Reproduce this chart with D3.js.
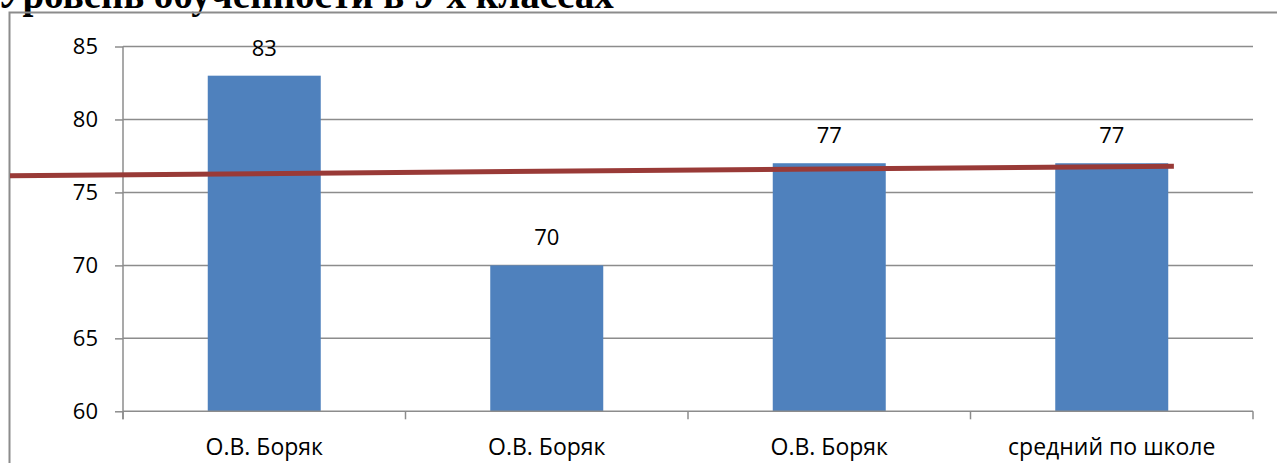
<!DOCTYPE html>
<html><head><meta charset="utf-8">
<script src="https://cdn.jsdelivr.net/npm/d3@7"></script>
<style>body{margin:0;background:#fff}svg{display:block}</style>
</head><body>
<svg id="c" width="1277" height="463"></svg>
<script>
const title = "Уровень обученности в 9-х классах";
const categories = ["О.В. Боряк", "О.В. Боряк", "О.В. Боряк", "средний по школе"];
const values = [83, 70, 77, 77];
const yTicks = [60, 65, 70, 75, 80, 85];
const trendPos = [-0.9, 3.22];   // in category-index units
const trendVals = [76.15, 76.8];

const svg = d3.select("#c");
const pL = 123, pR = 1253, pT = 46.5, pB = 411.3;
const font = "'Open Sans', 'Noto Sans', sans-serif";

// title (clipped at top, as in the source)
svg.append("text").attr("x", -3).attr("y", 8).text(title)
  .attr("font-family", "'Liberation Serif', serif").attr("font-weight", "bold")
  .attr("font-size", 39).attr("fill", "#000");

// frame
svg.append("path").attr("d", "M9.5,463 V12.5 H1277")
  .attr("fill", "none").attr("stroke", "#8c8c8c").attr("stroke-width", 2);

const idx = categories.map((c, i) => i);
const x = d3.scaleBand().domain(idx).range([pL, pR]).paddingInner(0.6).paddingOuter(0.3);
const xi = d3.scaleLinear().domain([-0.5, categories.length - 0.5]).range([pL, pR]);
const y = d3.scaleLinear().domain([60, 85]).range([pB, pT]);

// gridlines
svg.append("g").selectAll("line").data(yTicks.filter(d => d > 60)).join("line")
  .attr("x1", pL).attr("x2", pR).attr("y1", d => y(d)).attr("y2", d => y(d))
  .attr("stroke", "#8c8c8c").attr("stroke-width", 1.5);

// y axis
const ya = svg.append("g").attr("transform", `translate(${pL},0)`)
  .call(d3.axisLeft(y).tickValues(yTicks).tickSize(8).tickPadding(17));
ya.select(".domain").attr("stroke", "#8c8c8c").attr("stroke-width", 1.5).attr("d", `M0,${pT}V${pB + 8}`);
ya.selectAll(".tick line").attr("stroke", "#8c8c8c").attr("stroke-width", 1.5);
ya.selectAll("text").attr("font-family", font).attr("font-size", 22).attr("fill", "#000");

// bars
svg.append("g").selectAll("rect").data(values).join("rect")
  .attr("x", (d, i) => x(i)).attr("width", x.bandwidth())
  .attr("y", d => y(d)).attr("height", d => y(60) - y(d))
  .attr("fill", "#4f81bd");

// x axis
const xa = svg.append("g").attr("transform", `translate(0,${pB})`)
  .call(d3.axisBottom(x).tickSize(0).tickPadding(27).tickFormat(i => categories[i]));
xa.select(".domain").attr("stroke", "#8c8c8c").attr("stroke-width", 1.5).attr("d", `M${pL},0H${pR}`);
xa.selectAll("text").attr("font-family", font).attr("font-size", 23).attr("fill", "#000");
const bounds = d3.range(categories.length + 1).map(i => xi(i - 0.5));
xa.selectAll(".btick").data(bounds).join("line").attr("class", "btick")
  .attr("x1", d => d).attr("x2", d => d).attr("y1", 0).attr("y2", 8)
  .attr("stroke", "#8c8c8c").attr("stroke-width", 1.5);

// value labels
svg.append("g").selectAll("text").data(values).join("text")
  .attr("x", (d, i) => x(i) + x.bandwidth() / 2)
  .attr("y", d => y(d) - 20)
  .attr("text-anchor", "middle").attr("font-family", font).attr("font-size", 22)
  .attr("fill", "#000").text(d => d);

// trend line
svg.append("path")
  .datum(trendPos.map((p, i) => [p, trendVals[i]]))
  .attr("d", d3.line().x(d => xi(d[0])).y(d => y(d[1])))
  .attr("fill", "none").attr("stroke", "#993a37").attr("stroke-width", 5);
</script>
</body></html>
